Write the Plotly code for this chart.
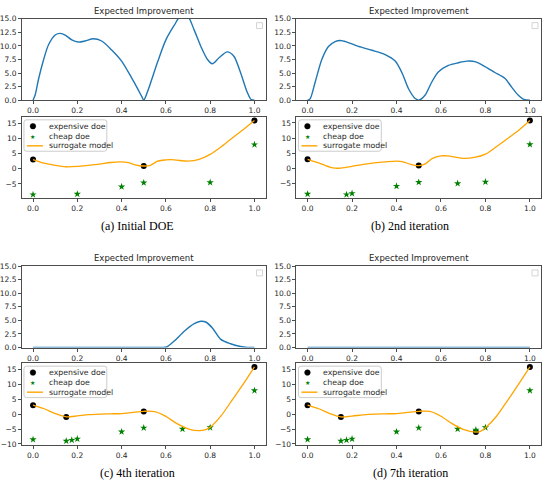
import plotly.graph_objects as go

# ---------------- data ----------------
# Expected improvement curves
ei_a_x = [0, 0.01, 0.025, 0.048, 0.07, 0.1, 0.123, 0.145, 0.175, 0.205, 0.235, 0.272, 0.31, 0.354, 0.4,
          0.444, 0.474, 0.492, 0.5, 0.508, 0.527, 0.564, 0.6, 0.638, 0.668, 0.698, 0.728, 0.758, 0.788,
          0.81, 0.84, 0.877, 0.907, 0.937, 0.967, 0.985, 1.0]
ei_a_y = [0, 1.0, 3.9, 7.5, 10.2, 12.0, 12.3, 12.0, 11.1, 10.7, 10.9, 11.3, 10.9, 9.3, 7.2,
          4.2, 2.0, 0.6, 0, 0.6, 2.7, 7.2, 11.1, 13.8, 15.6, 15.5, 12.9, 9.9, 7.5,
          6.7, 7.8, 8.9, 8.1, 5.1, 1.5, 0.1, 0]

ei_b_x = [0, 0.012, 0.034, 0.064, 0.094, 0.124, 0.147, 0.177, 0.229, 0.289, 0.349, 0.394, 0.424, 0.454,
          0.484, 0.5, 0.528, 0.558, 0.588, 0.633, 0.678, 0.716, 0.753, 0.798, 0.843, 0.888, 0.918, 0.948,
          0.97, 0.985, 1.0]
ei_b_y = [0, 0.3, 3.3, 7.5, 9.9, 10.8, 11.0, 10.7, 9.9, 9.2, 8.4, 7.2, 5.1, 2.1,
          0.3, 0, 0.9, 3.3, 5.2, 6.4, 6.9, 7.2, 7.1, 6.2, 5.1, 4.0, 2.4, 0.9,
          0.2, 0.03, 0]

ei_c_x = [0, 0.1, 0.2, 0.3, 0.4, 0.5, 0.56, 0.585, 0.604, 0.638, 0.683, 0.728, 0.758, 0.78, 0.81, 0.848,
          0.892, 0.937, 0.967, 0.985, 1.0]
ei_c_y = [0, 0, 0, 0, 0, 0, 0, 0, 0.1, 1.2, 3.0, 4.4, 4.84, 4.7, 3.6, 1.5,
          0.7, 0.2, 0.02, 0, 0]

ei_d_x = [0, 0.2, 0.4, 0.6, 0.8, 1.0]
ei_d_y = [0, 0, 0, 0, 0, 0]

# Expensive DOE
exp_a_x = [0, 0.5, 1.0]
exp_a_y = [3.0, 0.9, 15.8]
exp_b_x = [0, 0.5, 1.0]
exp_b_y = [3.0, 0.9, 15.8]
exp_c_x = [0, 0.15, 0.5, 1.0]
exp_c_y = [3.0, -1.0, 0.9, 15.8]
exp_d_x = [0, 0.15, 0.5, 0.757, 1.0]
exp_d_y = [3.0, -1.0, 0.9, -6.0, 15.8]

# Cheap DOE
chp_a_x = [0, 0.2, 0.4, 0.5, 0.8, 1.0]
chp_a_y = [-8.5, -8.3, -5.9, -4.6, -4.5, 7.9]
chp_b_x = [0, 0.175, 0.2, 0.4, 0.5, 0.675, 0.8, 1.0]
chp_b_y = [-8.5, -8.7, -8.3, -5.9, -4.6, -5.0, -4.5, 7.9]
chp_c_x = [0, 0.15, 0.175, 0.2, 0.4, 0.5, 0.675, 0.8, 1.0]
chp_c_y = [-8.5, -9.0, -8.7, -8.3, -5.9, -4.6, -5.0, -4.5, 7.9]
chp_d_x = [0, 0.15, 0.175, 0.2, 0.4, 0.5, 0.675, 0.757, 0.8, 1.0]
chp_d_y = [-8.5, -9.0, -8.7, -8.3, -5.9, -4.6, -5.0, -5.3, -4.5, 7.9]

# Surrogate model
sur_a_x = [0, 0.05, 0.1, 0.15, 0.2, 0.25, 0.3, 0.35, 0.4, 0.43, 0.46, 0.5, 0.53, 0.56, 0.6, 0.62,
           0.65, 0.7, 0.75, 0.8, 0.85, 0.9, 0.95, 1.0]
sur_a_y = [3.0, 1.8, 1.1, 0.65, 0.75, 1.1, 1.5, 2.05, 2.25, 2.0, 1.3, 0.9, 1.1, 2.4, 2.9, 3.0,
           2.8, 2.5, 3.1, 4.7, 7.2, 10.1, 12.9, 15.8]
sur_b_x = [0, 0.05, 0.1, 0.125, 0.15, 0.2, 0.25, 0.3, 0.35, 0.4, 0.43, 0.46, 0.5, 0.53, 0.56, 0.6,
           0.63, 0.67, 0.7, 0.75, 0.8, 0.85, 0.9, 0.95, 1.0]
sur_b_y = [3.0, 1.8, 0.4, 0.05, 0.1, 0.65, 1.3, 1.8, 2.15, 2.4, 2.15, 1.4, 0.9, 1.5, 3.2, 4.1,
           4.1, 3.6, 3.3, 3.6, 4.7, 7.2, 9.9, 12.6, 15.8]
sur_c_x = [0, 0.05, 0.1, 0.15, 0.2, 0.25, 0.3, 0.35, 0.4, 0.45, 0.5, 0.55, 0.6, 0.65, 0.7, 0.75,
           0.78, 0.8, 0.85, 0.9, 0.95, 1.0]
sur_c_y = [3.0, 1.8, 0.2, -0.9, -0.6, -0.2, 0.0, 0.1, 0.2, 0.6, 0.95, 0.85, -0.75, -3.2, -4.9, -5.55,
           -5.2, -4.4, -0.5, 4.8, 10.1, 15.8]
sur_d_x = [0, 0.05, 0.1, 0.15, 0.2, 0.25, 0.3, 0.35, 0.4, 0.45, 0.5, 0.55, 0.6, 0.65, 0.7, 0.757,
           0.78, 0.8, 0.85, 0.9, 0.95, 1.0]
sur_d_y = [3.0, 1.8, 0.2, -0.95, -0.65, -0.25, 0.0, 0.1, 0.2, 0.6, 0.95, 0.9, -0.7, -3.2, -5.1, -6.0,
           -5.7, -4.6, -0.7, 4.6, 10.1, 15.8]

captions = ["(a) Initial DOE", "(b) 2nd iteration", "(c) 4th iteration", "(d) 7th iteration"]
ei_title = "Expected Improvement"
legend_labels = ["expensive doe", "cheap doe", "surrogate model"]
ei_ticks = [0, 2.5, 5.0, 7.5, 10.0, 12.5, 15.0]
x_ticks = [0, 0.2, 0.4, 0.6, 0.8, 1.0]

# ---------------- layout helpers ----------------
W, H = 550, 487
def fx(px):
    return px / W
def fy(py):
    return 1 - py / H

EI_BLUE = "#1f77b4"
ORANGE = "#FFA500"
GREEN = "#008000"
TXT = "#262626"
SPINE = "#4d4d4d"
TICKFONT = dict(family="DejaVu Sans", size=7.5, color=TXT)

# pixel boxes: (left, right, top, bottom)
cols = [(21, 265), (296, 541)]
rows = [((15, 98), (115, 198)), ((267, 350), (366, 449))]
panels = [
    (ei_a_x, ei_a_y, exp_a_x, exp_a_y, chp_a_x, chp_a_y, sur_a_x, sur_a_y),
    (ei_b_x, ei_b_y, exp_b_x, exp_b_y, chp_b_x, chp_b_y, sur_b_x, sur_b_y),
    (ei_c_x, ei_c_y, exp_c_x, exp_c_y, chp_c_x, chp_c_y, sur_c_x, sur_c_y),
    (ei_d_x, ei_d_y, exp_d_x, exp_d_y, chp_d_x, chp_d_y, sur_d_x, sur_d_y),
]
cap_x = [137, 410]
cap_y = [226, 478]

fig = go.Figure()
layout = dict(width=W, height=H, autosize=False, margin=dict(l=0, r=0, t=0, b=0),
              paper_bgcolor="white", plot_bgcolor="white", showlegend=False)
shapes, annotations = [], []

def axis_common():
    return dict(showgrid=False, zeroline=False, showline=True, mirror=True, linecolor=SPINE,
                linewidth=1, ticks="outside", ticklen=3, tickwidth=1, tickcolor=SPINE,
                tickfont=TICKFONT)

ax_idx = 0
for p, data in enumerate(panels):
    r, c = divmod(p, 2)
    left, right = cols[c]
    (t_top, t_bot), (b_top, b_bot) = rows[r]
    eix, eiy, ex, ey, cx, cy, sx, sy = data

    # --- EI axis ---
    ax_idx += 1
    n1 = ax_idx
    sfx1 = "" if n1 == 1 else str(n1)
    xa = axis_common()
    xa.update(domain=[fx(left), fx(right)], range=[-0.05, 1.05], tickvals=x_ticks, tickformat=".1f",
              anchor="y" + sfx1)
    ya = axis_common()
    ya.update(domain=[fy(t_bot), fy(t_top)], range=[0, 15], tickvals=ei_ticks, tickformat=".1f",
              anchor="x" + sfx1)
    layout["xaxis" + sfx1] = xa
    layout["yaxis" + sfx1] = ya
    fig.add_trace(go.Scatter(x=eix, y=eiy, mode="lines",
                             line=dict(color=EI_BLUE, width=1.4, shape="spline", smoothing=0.8),
                             xaxis="x" + sfx1, yaxis="y" + sfx1, hoverinfo="skip"))
    annotations.append(dict(text=ei_title, x=fx((left + right) / 2), y=fy(t_top - 8), xref="paper", yref="paper",
                            showarrow=False, xanchor="center", yanchor="middle",
                            font=dict(family="DejaVu Sans", size=8.5, color=TXT)))
    # empty legend box (top-right)
    shapes.append(dict(type="rect", xref="paper", yref="paper", x0=fx(right - 9), x1=fx(right - 3),
                       y0=fy(t_top + 10), y1=fy(t_top + 4), line=dict(color="#d4d4d4", width=1),
                       fillcolor="white"))

    # --- model axis ---
    ax_idx += 1
    n2 = ax_idx
    allv = ey + cy + sy
    lo, hi = min(allv), max(allv)
    pad = (hi - lo) * 0.05
    xb = axis_common()
    xb.update(domain=[fx(left), fx(right)], range=[-0.05, 1.05], tickvals=x_ticks, tickformat=".1f",
              anchor=f"y{n2}")
    yb = axis_common()
    yb.update(domain=[fy(b_bot), fy(b_top)], range=[lo - pad, hi + pad], dtick=5, tick0=0,
              anchor=f"x{n2}")
    layout[f"xaxis{n2}"] = xb
    layout[f"yaxis{n2}"] = yb
    fig.add_trace(go.Scatter(x=ex, y=ey, mode="markers", marker=dict(color="black", size=6, symbol="circle"),
                             xaxis=f"x{n2}", yaxis=f"y{n2}", hoverinfo="skip"))
    fig.add_trace(go.Scatter(x=cx, y=cy, mode="markers", marker=dict(color=GREEN, size=5.5, symbol="star",
                             line=dict(width=0)), xaxis=f"x{n2}", yaxis=f"y{n2}", hoverinfo="skip"))
    fig.add_trace(go.Scatter(x=sx, y=sy, mode="lines",
                             line=dict(color=ORANGE, width=1.3, shape="spline", smoothing=0.8),
                             xaxis=f"x{n2}", yaxis=f"y{n2}", hoverinfo="skip"))

    # --- hand-built legend (upper left) ---
    lx0, ly0 = left + 2, b_top + 3
    lx1, ly1 = left + 85, b_top + 35
    rr = 2.5
    X0, X1 = fx(lx0), fx(lx1)
    Y0, Y1 = fy(ly0), fy(ly1)
    rx, ry = rr / W, rr / H
    path = (f"M {X0+rx},{Y0} L {X1-rx},{Y0} Q {X1},{Y0} {X1},{Y0-ry} L {X1},{Y1+ry} Q {X1},{Y1} {X1-rx},{Y1} "
            f"L {X0+rx},{Y1} Q {X0},{Y1} {X0},{Y1+ry} L {X0},{Y0-ry} Q {X0},{Y0} {X0+rx},{Y0} Z")
    shapes.append(dict(type="path", path=path, xref="paper", yref="paper",
                       line=dict(color="#cccccc", width=1), fillcolor="rgba(255,255,255,0.8)"))
    row_y = [b_top + 9.5, b_top + 19.5, b_top + 29.5]
    gx = left + 11
    shapes.append(dict(type="circle", xref="paper", yref="paper", xsizemode="pixel", ysizemode="pixel",
                       xanchor=fx(gx), yanchor=fy(row_y[0]), x0=-2.8, x1=2.8, y0=-2.8, y1=2.8,
                       fillcolor="black", line=dict(color="black", width=0.5)))
    annotations.append(dict(text="★", x=fx(gx), y=fy(row_y[1]), xref="paper", yref="paper", showarrow=False,
                            xanchor="center", yanchor="middle",
                            font=dict(family="DejaVu Sans", size=6, color=GREEN)))
    shapes.append(dict(type="line", xref="paper", yref="paper", x0=fx(left + 5), x1=fx(left + 21),
                       y0=fy(row_y[2]), y1=fy(row_y[2]), line=dict(color=ORANGE, width=1.4)))
    for lab, yy in zip(legend_labels, row_y):
        annotations.append(dict(text=lab, x=fx(left + 25), y=fy(yy), xref="paper", yref="paper",
                                showarrow=False, xanchor="left", yanchor="middle",
                                font=dict(family="DejaVu Sans", size=7.8, color=TXT)))

    # caption
    annotations.append(dict(text=captions[p], x=fx(cap_x[c]), y=fy(cap_y[r]), xref="paper", yref="paper",
                            showarrow=False, xanchor="center", yanchor="middle",
                            font=dict(family="Liberation Serif", size=12, color="black")))

layout["shapes"] = shapes
layout["annotations"] = annotations
fig.update_layout(**layout)
fig.write_html("out.html")
